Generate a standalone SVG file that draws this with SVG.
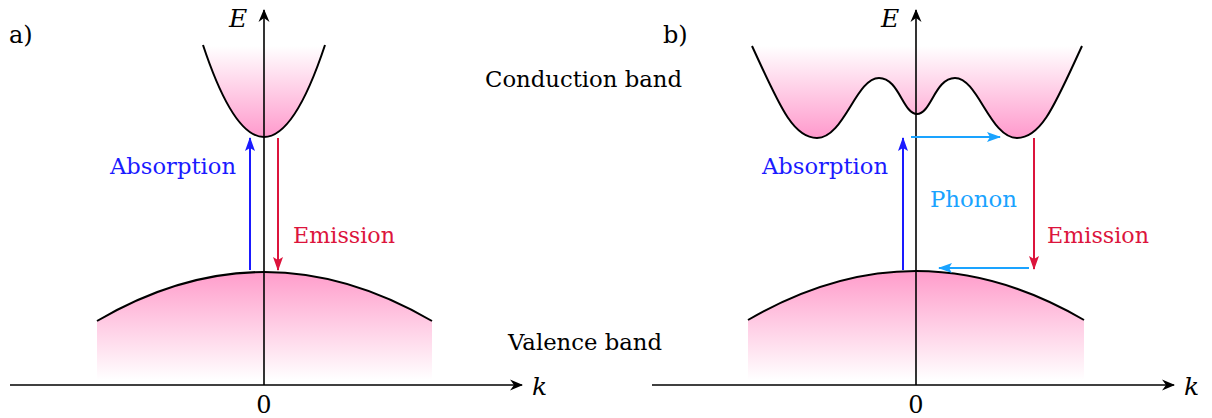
<svg xmlns="http://www.w3.org/2000/svg" width="1212" height="418" viewBox="0 0 1212 418">
<style>
.t{font-family:'DejaVu Serif','Liberation Serif','Noto Serif','Times New Roman',serif;font-size:23px}
.n{font-family:'DejaVu Serif','Liberation Serif','Noto Serif','Times New Roman',serif;font-size:24px}
.it{font-family:'DejaVu Serif','Liberation Serif','Noto Serif','Times New Roman',serif;font-style:italic;font-size:25px}
.ax{stroke:#000;stroke-width:1.6;fill:none}
.band{stroke:#000;stroke-width:2;fill:none}
.blue{stroke:#1a1aff;stroke-width:2;fill:none}
.red{stroke:#dc143c;stroke-width:2;fill:none}
.cyan{stroke:#1aa3ff;stroke-width:2;fill:none}
</style>
<defs>
<linearGradient id="gc" gradientUnits="userSpaceOnUse" x1="0" y1="138" x2="0" y2="46">
<stop offset="0" stop-color="#ff99cc"/><stop offset="1" stop-color="#ffffff"/>
</linearGradient>
<linearGradient id="gv" gradientUnits="userSpaceOnUse" x1="0" y1="272" x2="0" y2="380">
<stop offset="0" stop-color="#ff9dcb"/><stop offset="1" stop-color="#ffffff"/>
</linearGradient>
<marker id="ak" viewBox="-14 -6 16 12" refX="0" refY="0" markerWidth="16" markerHeight="12" markerUnits="userSpaceOnUse" orient="auto">
<path d="M1,0 L-12,-5.5 L-8,0 L-12,5.5 Z" fill="#000"/>
</marker>
<marker id="ab" viewBox="-14 -6 16 12" refX="0" refY="0" markerWidth="16" markerHeight="12" markerUnits="userSpaceOnUse" orient="auto">
<path d="M1,0 L-13,-5 L-10,0 L-13,5 Z" fill="#1a1aff"/>
</marker>
<marker id="ar" viewBox="-14 -6 16 12" refX="0" refY="0" markerWidth="16" markerHeight="12" markerUnits="userSpaceOnUse" orient="auto">
<path d="M1,0 L-13,-5 L-10,0 L-13,5 Z" fill="#dc143c"/>
</marker>
<marker id="ac" viewBox="-14 -6 16 12" refX="0" refY="0" markerWidth="16" markerHeight="12" markerUnits="userSpaceOnUse" orient="auto">
<path d="M1,0 L-13,-5 L-10,0 L-13,5 Z" fill="#1aa3ff"/>
</marker>
</defs>

<g id="conduction-band-a">
<path d="M203,45 Q264,229 325,45 Z" fill="url(#gc)"/>
<path d="M203,45 Q264,229 325,45" class="band"/>
</g>
<g id="valence-band-a">
<path d="M97,321 Q264,223 432,321 L432,380 L97,380 Z" fill="url(#gv)"/>
<path d="M97,321 Q264,223 432,321" class="band"/>
</g>
<g id="conduction-band-b">
<path d="M752,46 C778,102 792,138 817,138 C844,138 856,78 879,78 C899,78 903,114 917,114 C931,114 935,78 955,78 C978,78 990,138 1017,138 C1042,138 1056,102 1082,46 Z" fill="url(#gc)"/>
<path d="M752,46 C778,102 792,138 817,138 C844,138 856,78 879,78 C899,78 903,114 917,114 C931,114 935,78 955,78 C978,78 990,138 1017,138 C1042,138 1056,102 1082,46" class="band" stroke-width="1.7"/>
</g>
<g id="valence-band-b">
<path d="M748,320 Q916,222 1084,320 L1084,380 L748,380 Z" fill="url(#gv)"/>
<path d="M748,320 Q916,222 1084,320" class="band"/>
</g>

<g id="axes">
<path d="M10,385 L522,385" class="ax" marker-end="url(#ak)"/>
<path d="M264,385 L264,10" class="ax" marker-end="url(#ak)"/>
<path d="M652,385 L1174,385" class="ax" marker-end="url(#ak)"/>
<path d="M916,385 L916,10" class="ax" marker-end="url(#ak)"/>
</g>

<g id="connectors">
<path d="M250,270 L250,138" class="blue" marker-end="url(#ab)"/>
<path d="M278,138 L278,270" class="red" marker-end="url(#ar)"/>
<path d="M903,270 L903,138" class="blue" marker-end="url(#ab)"/>
<path d="M911,137 L1000,137" class="cyan" marker-end="url(#ac)"/>
<path d="M1034,138 L1034,269" class="red" marker-end="url(#ar)"/>
<path d="M1029,268 L939,268" class="cyan" marker-end="url(#ac)"/>
</g>

<g id="labels">
<text class="n" x="9" y="43">a)</text>
<text class="n" x="663" y="43">b)</text>
<text class="it" x="229" y="27">E</text>
<text class="it" x="881" y="27">E</text>
<text class="it" x="532" y="395">k</text>
<text class="it" x="1184" y="395">k</text>
<text class="n" x="264" y="413" text-anchor="middle">0</text>
<text class="n" x="916" y="413" text-anchor="middle">0</text>
<text class="t" x="485" y="87" textLength="197" lengthAdjust="spacingAndGlyphs">Conduction band</text>
<text class="t" x="508" y="350" textLength="154" lengthAdjust="spacingAndGlyphs">Valence band</text>
<text class="t" x="110" y="174" fill="#1a1aff" textLength="126" lengthAdjust="spacingAndGlyphs">Absorption</text>
<text class="t" x="762" y="174" fill="#1a1aff" textLength="126" lengthAdjust="spacingAndGlyphs">Absorption</text>
<text class="t" x="293" y="243" fill="#dc143c" textLength="102" lengthAdjust="spacingAndGlyphs">Emission</text>
<text class="t" x="1047" y="243" fill="#dc143c" textLength="102" lengthAdjust="spacingAndGlyphs">Emission</text>
<text class="t" x="930" y="207" fill="#1aa3ff" textLength="87" lengthAdjust="spacingAndGlyphs">Phonon</text>
</g>
</svg>
